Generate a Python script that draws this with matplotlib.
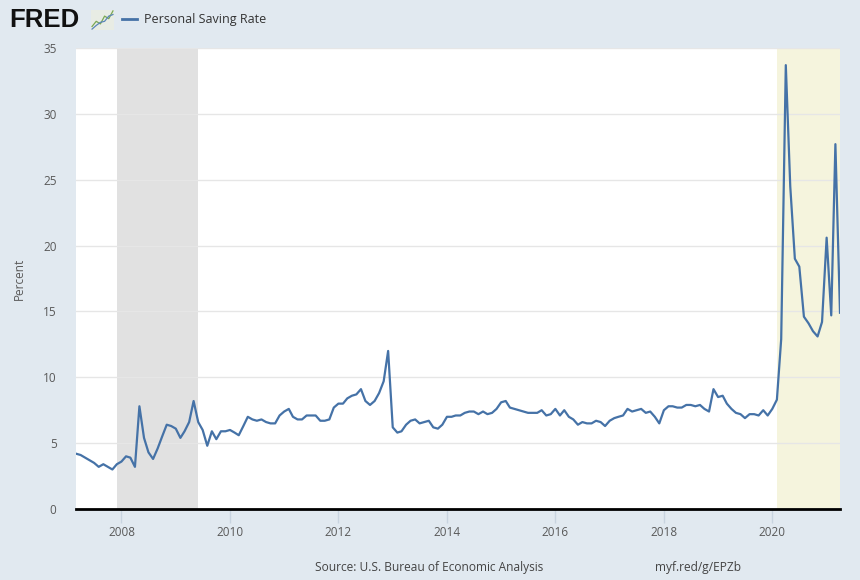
import pandas as pd
import matplotlib.pyplot as plt
import matplotlib.dates as mdates

# monthly personal saving rate, Mar 2007 .. Apr 2021
startMonth = "2007-03-01"
savingRate = [
  4.2, 4.1, 3.9, 3.7, 3.5, 3.2, 3.4, 3.2, 3.0, 3.4,             # 2007 Mar-Dec
  3.6, 4.0, 3.9, 3.2, 7.8, 5.4, 4.3, 3.8, 4.6, 5.5, 6.4, 6.3,   # 2008
  6.1, 5.4, 5.9, 6.6, 8.2, 6.6, 6.0, 4.8, 5.9, 5.3, 5.9, 5.9,   # 2009
  6.0, 5.8, 5.6, 6.3, 7.0, 6.8, 6.7, 6.8, 6.6, 6.5, 6.5, 7.1,   # 2010
  7.4, 7.6, 7.0, 6.8, 6.8, 7.1, 7.1, 7.1, 6.7, 6.7, 6.8, 7.7,   # 2011
  8.0, 8.0, 8.4, 8.6, 8.7, 9.1, 8.2, 7.9, 8.2, 8.8, 9.7, 12.0,  # 2012
  6.2, 5.8, 5.9, 6.4, 6.7, 6.8, 6.5, 6.6, 6.7, 6.2, 6.1, 6.4,   # 2013
  7.0, 7.0, 7.1, 7.1, 7.3, 7.4, 7.4, 7.2, 7.4, 7.2, 7.3, 7.6,   # 2014
  8.1, 8.2, 7.7, 7.6, 7.5, 7.4, 7.3, 7.3, 7.3, 7.5, 7.1, 7.2,   # 2015
  7.6, 7.1, 7.5, 7.0, 6.8, 6.4, 6.6, 6.5, 6.5, 6.7, 6.6, 6.3,   # 2016
  6.7, 6.9, 7.0, 7.1, 7.6, 7.4, 7.5, 7.6, 7.3, 7.4, 7.0, 6.5,   # 2017
  7.5, 7.8, 7.8, 7.7, 7.7, 7.9, 7.9, 7.8, 7.9, 7.6, 7.4, 9.1,   # 2018
  8.5, 8.6, 8.0, 7.6, 7.3, 7.2, 6.9, 7.2, 7.2, 7.1, 7.5, 7.1,   # 2019
  7.6, 8.3, 12.9, 33.7, 24.5, 19.0, 18.4, 14.6, 14.1, 13.5, 13.1, 14.2,  # 2020
  20.6, 14.7, 27.7, 14.9,                                       # 2021
]
recessions = [("2007-12-01", "2009-06-01")]
highlight = [("2020-02-01", "2021-04-01")]
yTicks = [0, 5, 10, 15, 20, 25, 30, 35]

dates = pd.date_range(startMonth, periods=len(savingRate), freq="MS")

bgColor = "#e1e9f0"
lineColor = "#4572a7"
textColor = "#595959"

plt.rcParams['font.family'] = ['Open Sans', 'DejaVu Sans']

fig = plt.figure(figsize=(8.6, 5.8), dpi=100, facecolor=bgColor)
ax = fig.add_axes([76/860, 71/580, 764/860, 461/580])
ax.set_facecolor("white")

for start, end in recessions:
  ax.axvspan(pd.Timestamp(start), pd.Timestamp(end), color="#e1e1e1", lw=0, zorder=0)
for start, end in highlight:
  ax.axvspan(pd.Timestamp(start), pd.Timestamp(end), color="#f5f4dd", lw=0, zorder=0)

ax.plot(dates, savingRate, color=lineColor, lw=1.6, zorder=3)

ax.set_xlim(dates[0], dates[-1])
ax.set_ylim(0, 35)
ax.set_yticks(yTicks)
ax.grid(axis="y", color="#e6e6e6", lw=1, zorder=1)
ax.set_axisbelow(True)

ax.xaxis.set_major_locator(mdates.YearLocator(2))
ax.xaxis.set_major_formatter(mdates.DateFormatter("%Y"))

for side in ["top", "right", "left"]:
  ax.spines[side].set_visible(False)
ax.spines["bottom"].set_color("black")
ax.spines["bottom"].set_linewidth(2)
ax.spines["bottom"].set_zorder(4)

ax.tick_params(axis="y", length=0, pad=14, labelsize=8.5, labelcolor=textColor)
ax.tick_params(axis="x", length=10, width=1, color="#c8d4e0", pad=2, labelsize=8.5, labelcolor=textColor)

ax.set_ylabel("Percent", fontsize=8.5, color=textColor, labelpad=12)

# header
fig.text(9/860, 1 - 20/580, "FRED", fontsize=18.5, fontweight="bold", color="#111111",
         va="center", ha="left", family=["Liberation Sans", "DejaVu Sans"])
icon = fig.add_axes([91/860, 1 - 30/580, 23/860, 20/580])
icon.set_facecolor("#e8ece4")
icon.plot([0, 1, 2, 3, 4, 5], [1, 2, 1.5, 3, 2.5, 4], color="#7aa854", lw=0.9)
icon.plot([0, 1, 2, 3, 4, 5], [0.5, 1.2, 1.8, 2.0, 3.0, 3.3], color="#5b86b8", lw=0.9)
icon.set_xticks([])
icon.set_yticks([])
for s in icon.spines.values():
  s.set_visible(False)

fig.lines.append(plt.Line2D([122/860, 137/860], [1 - 19/580, 1 - 19/580],
                            transform=fig.transFigure, color=lineColor, lw=2))
fig.text(144/860, 1 - 19/580, "Personal Saving Rate", fontsize=9, color="#333333",
         va="center", ha="left")

# footer
fig.text(315/860, 1 - 568/580, "Source: U.S. Bureau of Economic Analysis", fontsize=8.6,
         color="#444444", va="center", ha="left")
fig.text(655/860, 1 - 568/580, "myf.red/g/EPZb", fontsize=8.6,
         color="#444444", va="center", ha="left")

fig.savefig("out.png", dpi=100, facecolor=bgColor)
